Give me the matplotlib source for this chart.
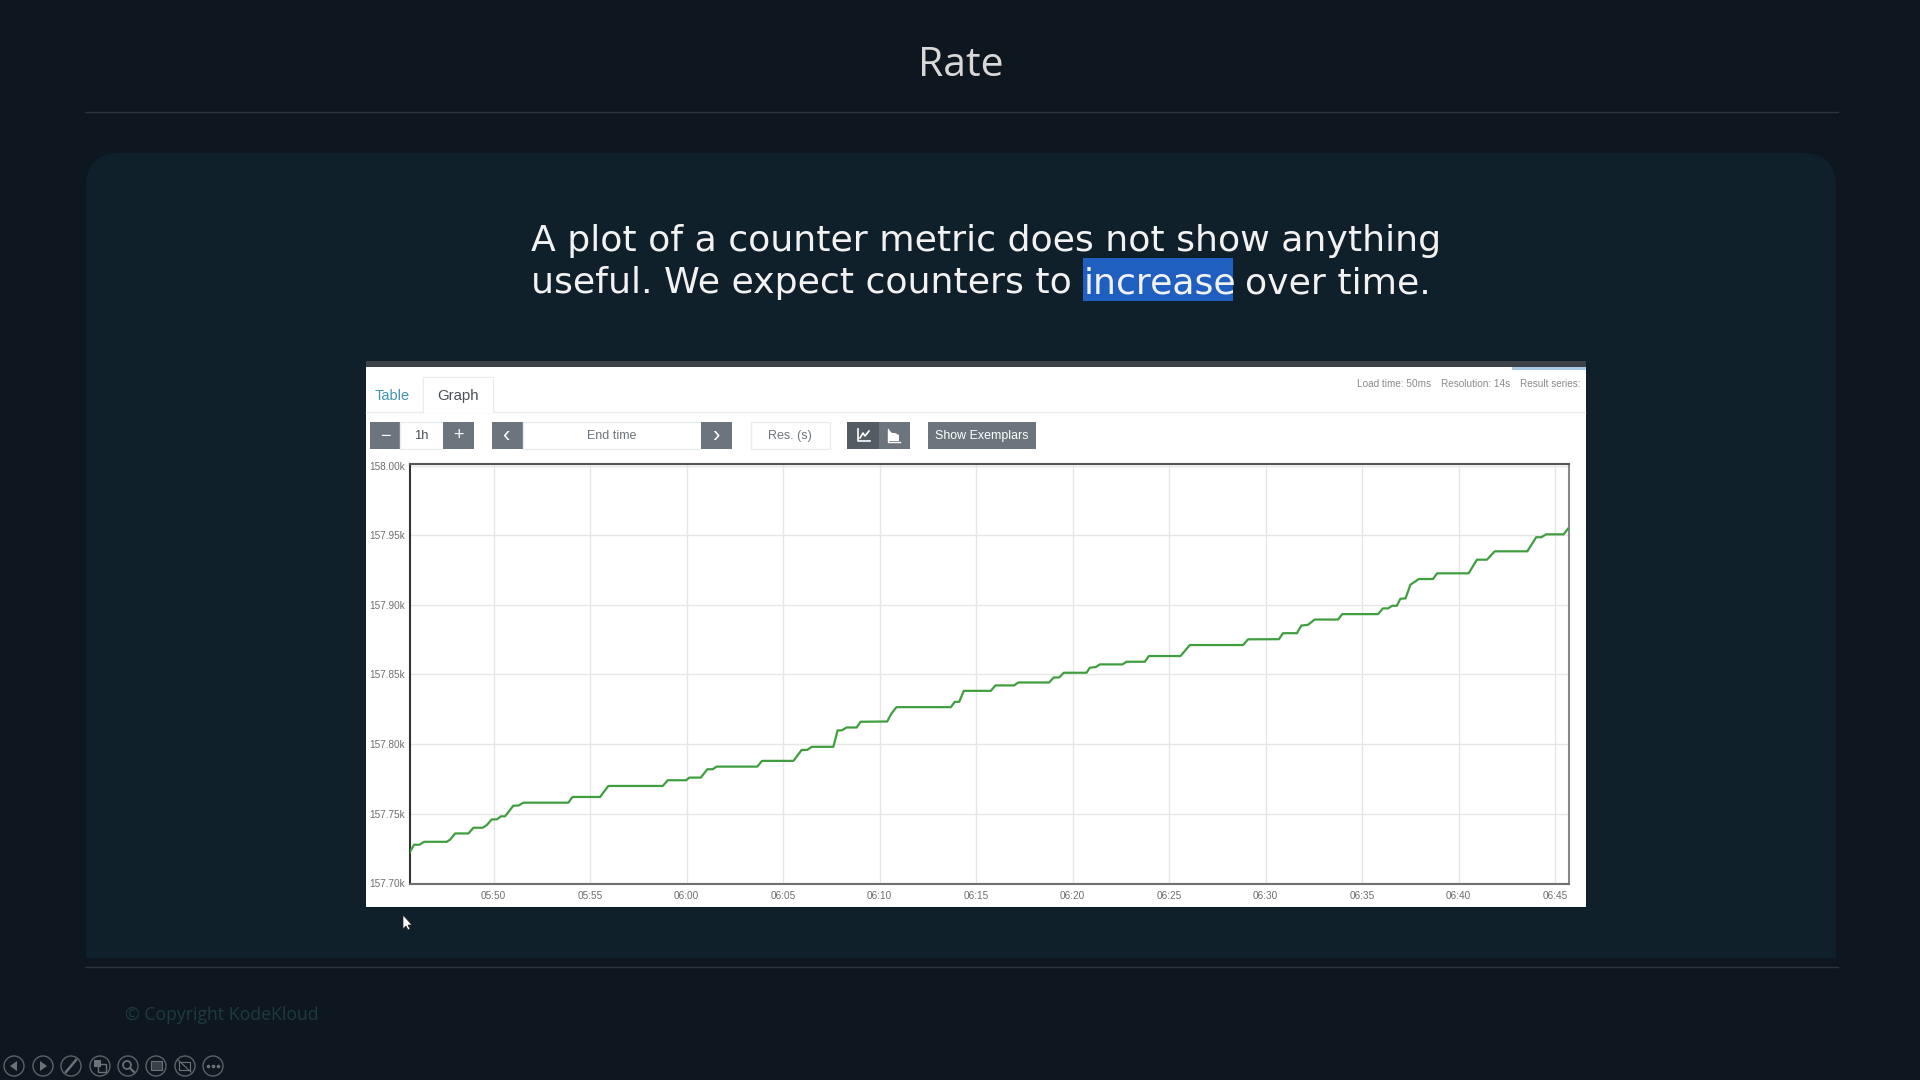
# Slide with a Prometheus graph panel showing a counter that keeps climbing
import matplotlib
matplotlib.use("Agg")
import matplotlib.pyplot as plt
from matplotlib.patches import Rectangle, FancyBboxPatch, Circle, Polygon

# Counter samples: minutes after 05:45 and counter value in thousands
minutes = [0.63, 0.87, 1.15, 1.39, 2.56, 2.74, 3.00, 3.69, 3.95, 4.43, 4.64, 4.90, 5.16, 5.38, 5.59,
           6.02, 6.28, 6.54, 8.87, 9.08, 10.51, 10.94, 13.76, 14.02, 14.97, 15.14, 15.73, 16.07, 16.35,
           16.55, 18.66, 18.90, 20.53, 20.96, 21.25, 21.48, 22.60, 22.82, 23.03, 23.29, 23.81, 24.01,
           25.39, 25.61, 25.87, 28.69, 28.89, 29.12, 29.36, 30.76, 31.00, 31.97, 32.18, 33.78, 34.02,
           34.30, 34.54, 35.72, 35.89, 36.20, 36.41, 37.58, 37.79, 38.74, 38.95, 40.59, 41.07, 43.83,
           44.09, 45.69, 45.90, 46.62, 46.85, 47.19, 47.54, 48.75, 48.97, 50.82, 51.08, 51.34, 51.56,
           51.80, 51.98, 52.25, 52.50, 52.94, 53.67, 53.89, 55.52, 55.95, 56.47, 56.87, 58.56, 59.02,
           59.28, 59.54, 60.44, 60.66]
values = [157.7217, 157.7277, 157.7277, 157.7298, 157.7298, 157.7313, 157.7358, 157.7358, 157.7399,
          157.7399, 157.7418, 157.7459, 157.7459, 157.7481, 157.7481, 157.7558, 157.7558, 157.7579,
          157.7579, 157.7620, 157.7620, 157.7699, 157.7699, 157.7740, 157.7740, 157.7759, 157.7759,
          157.7819, 157.7819, 157.7838, 157.7838, 157.7879, 157.7879, 157.7958, 157.7958, 157.7980,
          157.7980, 157.8098, 157.8098, 157.8119, 157.8119, 157.8160, 157.8162, 157.8219, 157.8265,
          157.8265, 157.8303, 157.8303, 157.8382, 157.8382, 157.8421, 157.8421, 157.8442, 157.8442,
          157.8478, 157.8478, 157.8512, 157.8512, 157.8548, 157.8553, 157.8572, 157.8572, 157.8591,
          157.8591, 157.8632, 157.8632, 157.8711, 157.8711, 157.8752, 157.8753, 157.8796, 157.8796,
          157.8851, 157.8856, 157.8894, 157.8894, 157.8933, 157.8933, 157.8974, 157.8974, 157.8993,
          157.8993, 157.9043, 157.9046, 157.9144, 157.9185, 157.9185, 157.9226, 157.9226, 157.9324,
          157.9324, 157.9384, 157.9384, 157.9485, 157.9485, 157.9506, 157.9506, 157.9545]

x_ticks = [5, 10, 15, 20, 25, 30, 35, 40, 45, 50, 55, 60]
x_labels = ["05:50", "05:55", "06:00", "06:05", "06:10", "06:15",
            "06:20", "06:25", "06:30", "06:35", "06:40", "06:45"]
y_ticks = [157.70, 157.75, 157.80, 157.85, 157.90, 157.95, 158.00]
y_labels = ["157.70k", "157.75k", "157.80k", "157.85k", "157.90k", "157.95k", "158.00k"]

W, H = 1920, 1080
fig = plt.figure(figsize=(W / 100, H / 100), dpi=100, facecolor="#0e1620")

# Full-figure layer in pixel units for the slide and the panel controls
bg = fig.add_axes([0, 0, 1, 1])
bg.set_xlim(0, W)
bg.set_ylim(H, 0)
bg.axis("off")


def px(size):
    return size * 0.72


def button(x0, x1, color="#6c757d", y0=422, y1=449):
    bg.add_patch(Rectangle((x0, y0), x1 - x0, y1 - y0, fc=color, ec="none", zorder=4))


def field(x0, x1, y0=422, y1=449):
    bg.add_patch(Rectangle((x0, y0), x1 - x0, y1 - y0, fc="#ffffff", ec="#e9ecef", lw=1, zorder=4))


# Slide header, body card and footer
bg.text(961, 66, "Rate", color="#d8d8d8", fontsize=px(41), family="Open Sans", ha="center", va="center")
bg.plot([85, 1838], [112, 112], color="#2a343c", lw=1)
bg.add_patch(Rectangle((86, 190), 1750, 768, fc="#10202a", ec="none"))
bg.add_patch(FancyBboxPatch((86, 153), 1750, 300, boxstyle="round,pad=0,rounding_size=34",
                            fc="#10202a", ec="none"))
bg.add_patch(Rectangle((0, 958), W, 122, fc="#0e1620", ec="none", zorder=2))
bg.plot([85, 1838], [967, 967], color="#2a343c", lw=1, zorder=3)
bg.text(125, 1015, "© Copyright KodeKloud", color="#1e3a40", fontsize=px(17.6), family="Open Sans",
        va="center", zorder=3)

# Heading sentence with the highlighted word
body = dict(color="#f2f2f2", fontsize=px(36.2), family="DejaVu Sans", va="center")
bg.text(531, 241, "A plot of a counter metric does not show anything", **body)
bg.text(531, 283, "useful. We expect counters to", **body)
bg.add_patch(Rectangle((1083, 258), 150, 43, fc="#1f5fbf", ec="none"))
bg.text(1084, 283, "increase", **body)
bg.text(1245, 283, "over time.", **body)

# Browser panel
bg.add_patch(Rectangle((366, 361), 1220, 6, fc="#3c4347", ec="none", zorder=3))
bg.add_patch(Rectangle((366, 367), 1220, 540, fc="#ffffff", ec="none", zorder=3))
bg.add_patch(Rectangle((1512, 367), 74, 3, fc="#a9cbe6", ec="none", zorder=4))
bg.plot([366, 1585], [412, 412], color="#e9ecef", lw=1, zorder=4)
bg.plot([423, 423, 493, 493], [412, 377, 377, 412], color="#e9ecef", lw=1, zorder=4)
bg.add_patch(Rectangle((424, 378), 69, 35, fc="#ffffff", ec="none", zorder=4))

ui = dict(family="Liberation Sans", va="center", zorder=6)
bg.text(375, 396, "Table", color="#3f93b5", fontsize=px(14.6), **ui)
bg.text(458, 396, "Graph", color="#495057", fontsize=px(15), ha="center", **ui)
bg.text(1357, 384, "Load time: 50ms", color="#8a8a8a", fontsize=px(10), **ui)
bg.text(1441, 384, "Resolution: 14s", color="#8a8a8a", fontsize=px(10), **ui)
bg.text(1520, 384, "Result series:", color="#8a8a8a", fontsize=px(10), **ui)

# Range and end-time controls
button(370, 400)
field(400, 443)
button(443, 474)
button(492, 523)
field(523, 701)
button(701, 732)
field(751, 830)
button(847, 879, "#545b62")
button(879, 910)
button(928, 1036)
bg.text(385, 436, "−", color="white", fontsize=px(18), ha="center", **ui)
bg.text(421, 436, "1h", color="#495057", fontsize=px(13), ha="center", **ui)
bg.text(458, 436, "+", color="white", fontsize=px(18), ha="center", **ui)
bg.text(507, 436, "‹", color="white", fontsize=px(22), ha="center", **ui)
bg.text(612, 436, "End time", color="#6c757d", fontsize=px(12.5), ha="center", **ui)
bg.text(717, 436, "›", color="white", fontsize=px(22), ha="center", **ui)
bg.text(790, 436, "Res. (s)", color="#6c757d", fontsize=px(12.5), ha="center", **ui)
bg.text(982, 436, "Show Exemplars", color="white", fontsize=px(12.4), ha="center", **ui)

# Line and stacked chart toggle icons
bg.plot([858, 858, 870], [429, 441, 441], color="white", lw=1.2, zorder=6)
bg.plot([860, 863, 865, 869], [438, 433, 436, 431], color="white", lw=1.2, zorder=6)
bg.add_patch(Polygon([(889, 441), (889, 430), (892, 433), (895, 433), (899, 435), (899, 441)],
                     fc="white", ec="none", zorder=6))
bg.plot([888, 888, 900], [429, 442, 442], color="white", lw=1, zorder=6)

# Mouse pointer under the panel
bg.add_patch(Polygon([(403, 915), (403, 929), (406, 926), (408, 930), (410, 929), (408, 925), (412, 925)],
                     fc="white", ec="#222222", lw=0.5, zorder=6))

# Presenter toolbar along the bottom edge
for cx in [14, 43, 71, 100, 128, 156, 185, 213]:
    bg.add_patch(Circle((cx, 1066), 10, fc="none", ec="#5c6268", lw=1, zorder=5))
icon = "#6c7278"
bg.add_patch(Polygon([(17, 1061), (17, 1071), (10, 1066)], fc=icon, ec="none", zorder=5))
bg.add_patch(Polygon([(40, 1061), (40, 1071), (47, 1066)], fc=icon, ec="none", zorder=5))
bg.plot([66, 76], [1072, 1060], color=icon, lw=1.8, zorder=5)
bg.add_patch(Rectangle((94, 1060), 7, 7, fc=icon, ec="none", zorder=5))
bg.add_patch(Rectangle((98, 1064), 8, 8, fc="none", ec=icon, lw=1, zorder=5))
bg.add_patch(Circle((127, 1065), 4, fc="none", ec=icon, lw=1.2, zorder=5))
bg.plot([130, 134], [1068, 1072], color=icon, lw=1.5, zorder=5)
bg.add_patch(Rectangle((151, 1061), 11, 9, fc="#3a4046", ec=icon, lw=0.8, zorder=5))
bg.add_patch(Rectangle((179, 1062), 11, 8, fc="none", ec=icon, lw=0.8, zorder=5))
bg.plot([178, 191], [1060, 1072], color=icon, lw=0.8, zorder=5)
bg.scatter([208, 213, 218], [1066, 1066, 1066], s=2.5, color=icon, zorder=5)

# Graph area: plot frame sits in the white panel
left, right, top, bottom = 409.5, 1569, 464, 884
ax = fig.add_axes([left / W, 1 - bottom / H, (right - left) / W, (bottom - top) / H], zorder=5)
ax.set_facecolor("white")
ax.plot(minutes, values, color="#3f9f3f", lw=1.6, solid_joinstyle="round", zorder=3)
ax.set_xlim(0.637, 60.72)
ax.set_ylim(157.6995, 158.0011)
ax.set_xticks(x_ticks)
ax.set_xticklabels(x_labels)
ax.set_yticks(y_ticks)
ax.set_yticklabels(y_labels)
ax.tick_params(length=0, labelsize=px(10), labelcolor="#6e6e6e", pad=3)
ax.tick_params(axis="x", pad=5)
for lbl in ax.get_xticklabels() + ax.get_yticklabels():
    lbl.set_family("Liberation Sans")
ax.grid(True, color="#e6e6e6", lw=1)
ax.set_axisbelow(True)
ax.spines["left"].set_color("#333333")
ax.spines["top"].set_color("#555555")
ax.spines["right"].set_color("#888888")
ax.spines["bottom"].set_color("#707070")
for side in ax.spines.values():
    side.set_linewidth(1.5)

fig.savefig("out.png", dpi=100, facecolor=fig.get_facecolor())
